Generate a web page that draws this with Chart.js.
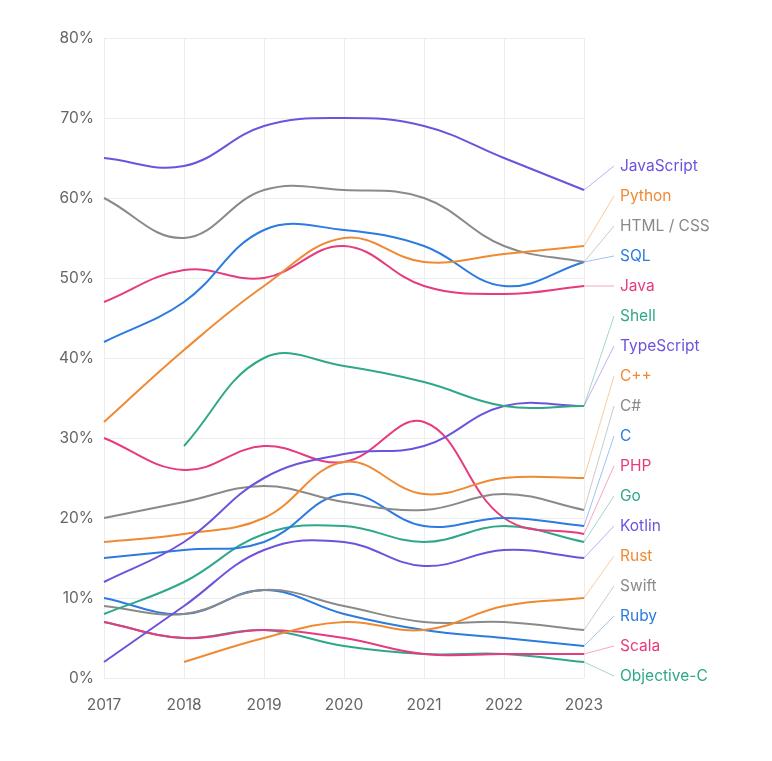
<!DOCTYPE html>
<html>
<head>
<meta charset="utf-8">
<script src="https://cdn.jsdelivr.net/npm/chart.js@4/dist/chart.umd.min.js"></script>
<style>
  html, body { margin: 0; padding: 0; background: #fff; }
  #wrap { width: 772px; height: 761px; }
</style>
</head>
<body>
<div id="wrap"><canvas id="chart"></canvas></div>
<script>
// years on the x axis
var years = ['2017', '2018', '2019', '2020', '2021', '2022', '2023'];
var yTicks = [0, 10, 20, 30, 40, 50, 60, 70, 80];

// share of respondents, % (null = not surveyed that year)
var javascript = [65, 64, 69, 70, 69, 65, 61];
var python     = [32, 41, 49, 55, 52, 53, 54];
var htmlCss    = [60, 55, 61, 61, 60, 54, 52];
var sql        = [42, 47, 56, 56, 54, 49, 52];
var java       = [47, 51, 50, 54, 49, 48, 49];
var shell      = [null, 29, 40, 39, 37, 34, 34];
var typescript = [12, 17, 25, 28, 29, 34, 34];
var cpp        = [17, 18, 20, 27, 23, 25, 25];
var csharp     = [20, 22, 24, 22, 21, 23, 21];
var cLang      = [15, 16, 17, 23, 19, 20, 19];
var php        = [30, 26, 29, 27, 32, 20, 18];
var go         = [8, 12, 18, 19, 17, 19, 17];
var kotlin     = [2, 9, 16, 17, 14, 16, 15];
var rust       = [null, 2, 5, 7, 6, 9, 10];
var swift      = [9, 8, 11, 9, 7, 7, 6];
var ruby       = [10, 8, 11, 8, 6, 5, 4];
var scala      = [7, 5, 6, 5, 3, 3, 3];
var objc       = [7, 5, 6, 4, 3, 3, 2];

var names = ['JavaScript', 'Python', 'HTML / CSS', 'SQL', 'Java', 'Shell', 'TypeScript', 'C++', 'C#',
             'C', 'PHP', 'Go', 'Kotlin', 'Rust', 'Swift', 'Ruby', 'Scala', 'Objective-C'];
var series = [javascript, python, htmlCss, sql, java, shell, typescript, cpp, csharp,
              cLang, php, go, kotlin, rust, swift, ruby, scala, objc];

var palette = ['#6e52dd', '#ef8a33', '#8a8a8a', '#2b7be0', '#e63b7f', '#2fa88a'];
var fontFamily = 'Inter, "Noto Sans", sans-serif';

function fade(hex, a) {
  var n = parseInt(hex.slice(1), 16);
  return 'rgba(' + (n >> 16) + ',' + ((n >> 8) & 255) + ',' + (n & 255) + ',' + a + ')';
}

var datasets = [];
for (var i = 0; i < names.length; i++) {
  var col = palette[i % palette.length];
  datasets.push({
    label: names[i],
    data: series[i],
    borderColor: col,
    backgroundColor: col,
    borderWidth: 2,
    pointRadius: 0,
    tension: 0.4,
    spanGaps: false
  });
}

// labels on the right, joined to the line ends
var endLabels = {
  id: 'endLabels',
  afterDatasetsDraw: function(chart) {
    var ctx = chart.ctx;
    var area = chart.chartArea;
    var y = chart.scales.y;
    var gap = 30;
    var first = area.top + 128;
    ctx.save();
    ctx.font = '15.5px ' + fontFamily;
    ctx.textBaseline = 'middle';
    ctx.textAlign = 'left';
    chart.data.datasets.forEach(function(ds, i) {
      var last = ds.data[ds.data.length - 1];
      var y0 = y.getPixelForValue(last);
      var ly = first + i * gap;
      ctx.strokeStyle = fade(ds.borderColor, 0.45);
      ctx.lineWidth = 1;
      ctx.beginPath();
      ctx.moveTo(area.right, y0);
      ctx.lineTo(area.right + 30, ly);
      ctx.stroke();
      ctx.fillStyle = ds.borderColor;
      ctx.fillText(ds.label, area.right + 36, ly);
    });
    ctx.restore();
  }
};

new Chart(document.getElementById('chart'), {
  type: 'line',
  data: { labels: years, datasets: datasets },
  plugins: [endLabels],
  options: {
    responsive: true,
    maintainAspectRatio: false,
    animation: false,
    layout: { padding: { top: 38, right: 188, bottom: 0, left: 0 } },
    plugins: { legend: { display: false }, tooltip: { enabled: false } },
    scales: {
      x: {
        offset: false,
        afterFit: function(axis) { axis.height = 83; },
        grid: { color: '#ececec', drawTicks: false },
        border: { display: false },
        ticks: { color: '#666', padding: 18, font: { family: fontFamily, size: 15.5 } }
      },
      y: {
        min: 0,
        max: 80,
        afterBuildTicks: function(axis) {
          axis.ticks = yTicks.map(function(v) { return { value: v }; });
        },
        afterFit: function(axis) { axis.width = 104; },
        grid: { color: '#ececec', drawTicks: false },
        border: { display: false },
        ticks: {
          color: '#666',
          padding: 10,
          font: { family: fontFamily, size: 15.5 },
          callback: function(v) { return v + '%'; }
        }
      }
    }
  }
});
</script>
</body>
</html>
